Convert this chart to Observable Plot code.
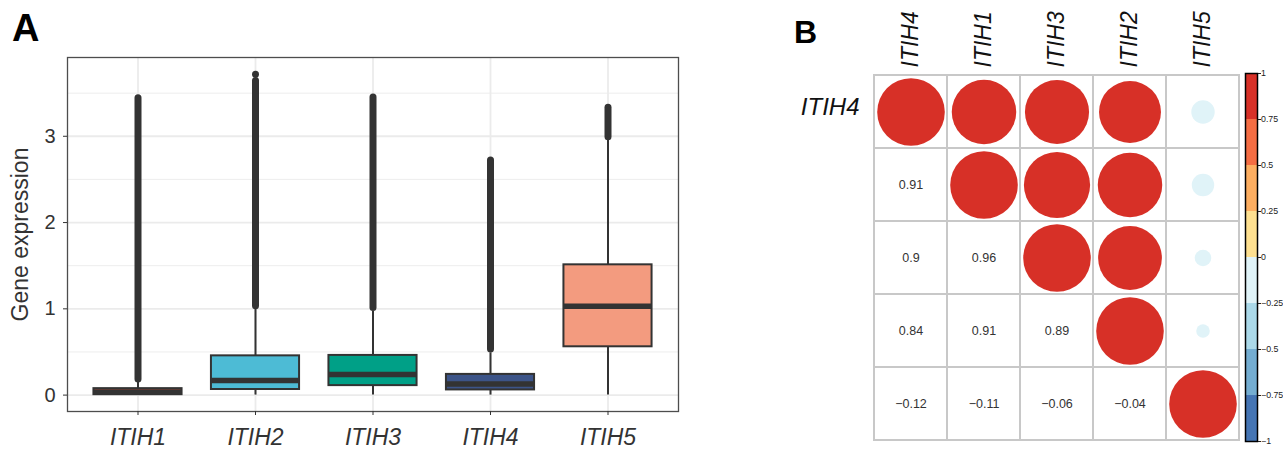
<!DOCTYPE html>
<html><head><meta charset="utf-8">
<script src="https://cdn.jsdelivr.net/npm/d3@7"></script>
<script src="https://cdn.jsdelivr.net/npm/@observablehq/plot@0.6"></script>
<style>
body{margin:0;background:#fff;font-family:"Liberation Sans",Arial,sans-serif;}
#wrap{position:relative;width:1283px;height:450px;overflow:hidden;background:#fff}
.pl{position:absolute;top:0}
.tag{position:absolute;font-weight:bold;color:#000;line-height:1;font-family:"Liberation Sans",Arial,sans-serif}
</style></head><body>
<div id="wrap">
  <div class="tag" style="left:12px;top:9px;font-size:38px">A</div>
  <div class="tag" style="left:794px;top:16px;font-size:32px">B</div>
  <div class="pl" id="pa" style="left:0"></div>
  <div class="pl" id="pb" style="left:780px"></div>
  <div class="pl" id="pc" style="left:1240px"></div>
</div>
<script>
// ---------- Panel A data (boxplot) ----------
const genes = ["ITIH1","ITIH2","ITIH3","ITIH4","ITIH5"];
const boxFill = ["#E64B35","#4DBBD5","#00A087","#3C5488","#F39B7F"];
const q1Vals = [0.005, 0.065, 0.11, 0.06, 0.56];
const medVals = [0.035, 0.17, 0.24, 0.13, 1.03];
const q3Vals = [0.075, 0.455, 0.46, 0.24, 1.51];
const whiskLoVals = [0.005, 0, 0, 0, 0];
const whiskHiVals = [0.15, 1.0, 0.97, 0.49, 2.95];
const outLoVals = [0.18, 1.03, 1.01, 0.53, 2.99];
const outHiVals = [3.44, 3.64, 3.45, 2.72, 3.33];
const extraOutGenes = ["ITIH2"];
const extraOutVals = [3.72];
const yTicks = [0, 1, 2, 3];
const yMinor = [0.5, 1.5, 2.5, 3.5];

// ---------- Panel B data (correlation) ----------
const corrGenes = ["ITIH4","ITIH1","ITIH3","ITIH2","ITIH5"];
const corrMatrix = [
  [1, 0.91, 0.90, 0.84, -0.12],
  [0.91, 1, 0.96, 0.91, -0.11],
  [0.90, 0.96, 1, 0.89, -0.06],
  [0.84, 0.91, 0.89, 1, -0.04],
  [-0.12, -0.11, -0.06, -0.04, 1]
];
const binEdges = [-1, -0.75, -0.5, -0.25, 0, 0.25, 0.5, 0.75, 1];
const binColors = ["#4575B4","#74ADD1","#ABD9E9","#E0F3F8","#FEE090","#FDAE61","#F46D43","#D73027"];

const FONT = "Liberation Sans, Arial, sans-serif";

// ---------- Panel A ----------
const boxes = genes.map((g, k) => ({
  i: k + 1, gene: g, fill: boxFill[k],
  q1: q1Vals[k], med: medVals[k], q3: q3Vals[k],
  wlo: whiskLoVals[k], whi: whiskHiVals[k],
  olo: outLoVals[k], ohi: outHiVals[k]
}));
const extra = extraOutGenes.map((g, k) => ({i: genes.indexOf(g) + 1, v: extraOutVals[k]}));
const hw = 0.375;

const plotA = Plot.plot({
  width: 700, height: 450,
  marginLeft: 67, marginRight: 22, marginTop: 57, marginBottom: 39,
  style: {fontFamily: FONT, background: "transparent", overflow: "visible"},
  x: {type: "linear", domain: [0.4, 5.6], label: null},
  y: {domain: [-0.19, 3.913], label: null},
  color: {type: "identity"},
  marks: [
    Plot.ruleY(yMinor, {stroke: "#ebebeb", strokeWidth: 0.9}),
    Plot.ruleY(yTicks, {stroke: "#ebebeb", strokeWidth: 1.8}),
    Plot.ruleX(boxes, {x: "i", stroke: "#ebebeb", strokeWidth: 1.8}),
    Plot.ruleX(boxes, {x: "i", y1: "q3", y2: "whi", stroke: "#333", strokeWidth: 2}),
    Plot.ruleX(boxes, {x: "i", y1: "wlo", y2: "q1", stroke: "#333", strokeWidth: 2}),
    Plot.ruleX(boxes, {x: "i", y1: "olo", y2: "ohi", stroke: "#333", strokeWidth: 7, strokeLinecap: "round"}),
    Plot.dot(extra, {x: "i", y: "v", r: 3.5, fill: "#333"}),
    Plot.rect(boxes, {x1: d => d.i - hw, x2: d => d.i + hw, y1: "q1", y2: "q3", fill: "fill", stroke: "#333", strokeWidth: 2}),
    Plot.ruleY(boxes, {y: "med", x1: d => d.i - hw, x2: d => d.i + hw, stroke: "#333", strokeWidth: 5.5}),
    Plot.frame({stroke: "#4d4d4d", strokeWidth: 1.3}),
    Plot.axisY({ticks: yTicks, tickFormat: d3.format("d"), tickSize: 4, tickPadding: 8, fontSize: 20, color: "#333", label: null}),
    Plot.axisX({ticks: [1,2,3,4,5], tickFormat: i => genes[i - 1], tickSize: 4, tickPadding: 13, fontSize: 23, fontStyle: "italic", color: "#333", label: null}),
    Plot.text(["Gene expression"], {text: d => d, frameAnchor: "left", dx: -46.5, rotate: -90, textAnchor: "middle", lineAnchor: "middle", fontSize: 23, fill: "#333"})
  ]
});
document.getElementById("pa").appendChild(plotA);

// ---------- Panel B ----------
const cells = [];
corrGenes.forEach((rg, r) => corrGenes.forEach((cg, c) => cells.push({row: rg, col: cg, r, c, v: corrMatrix[r][c]})));
const upper = cells.filter(d => d.c >= d.r);
const lower = cells.filter(d => d.c < d.r);
const fmt = d3.format(".2~f");

const plotB = Plot.plot({
  width: 465, height: 450,
  marginLeft: 93, marginRight: 6, marginTop: 73, marginBottom: 9,
  style: {fontFamily: FONT, background: "transparent", overflow: "visible"},
  x: {type: "band", domain: corrGenes, padding: 0, label: null, axis: null},
  y: {type: "band", domain: corrGenes, padding: 0, label: null, axis: null},
  r: {type: "sqrt", domain: [0, 1], range: [0, 33.8]},
  color: {type: "threshold", domain: binEdges.slice(1, -1), range: binColors},
  marks: [
    Plot.cell(cells, {x: "col", y: "row", fill: "white", stroke: "#c8c8c8", strokeWidth: 2, inset: 0}),
    Plot.dot(upper, {x: "col", y: "row", r: d => Math.abs(d.v), fill: "v"}),
    Plot.text(lower, {x: "col", y: "row", text: d => fmt(d.v), fontSize: 12.5, fill: "#333"}),
    Plot.axisX({anchor: "top", tickSize: 0, tickRotate: -90, tickPadding: 6, fontSize: 23, fontStyle: "italic", color: "#111", label: null}),
    Plot.axisY({ticks: ["ITIH4"], anchor: "left", tickSize: 0, tickPadding: 14, fontSize: 24, fontStyle: "italic", color: "#111", label: null, dy: -5})
  ]
});
document.getElementById("pb").appendChild(plotB);

// ---------- Colour bar ----------
const bins = binColors.map((c, k) => ({y1: binEdges[k], y2: binEdges[k + 1], c}));
const plotC = Plot.plot({
  width: 43, height: 450,
  marginLeft: 5, marginRight: 26, marginTop: 73, marginBottom: 9,
  style: {fontFamily: FONT, background: "transparent", overflow: "visible"},
  x: {domain: [0, 1], axis: null},
  y: {domain: [-1, 1], label: null, axis: null},
  color: {type: "identity"},
  marks: [
    Plot.rect(bins, {x1: 0, x2: 1, y1: "y1", y2: "y2", fill: "c"}),
    Plot.frame({stroke: "#000", strokeWidth: 1.5}),
    Plot.axisY({ticks: binEdges, anchor: "right", tickSize: 3, tickPadding: 0.5, fontSize: 8.8, color: "#222", tickFormat: d3.format("~g"), label: null})
  ]
});
document.getElementById("pc").appendChild(plotC);
</script>
</body></html>
